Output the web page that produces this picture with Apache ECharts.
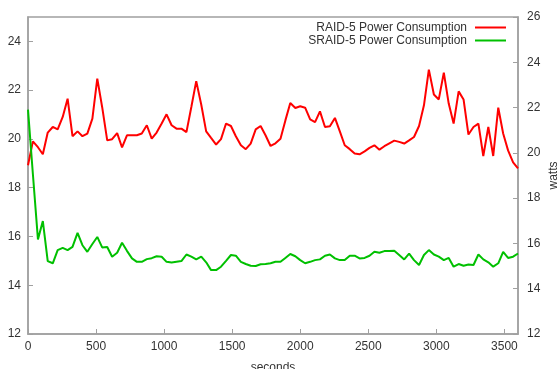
<!DOCTYPE html>
<html>
<head>
<meta charset="utf-8">
<title>RAID-5 vs SRAID-5 power</title>
<script src="https://cdn.jsdelivr.net/npm/echarts@6/dist/echarts.min.js"></script>
<style>
	html, body { margin: 0; padding: 0; background: #fff; }
	#chart { width: 560px; height: 369px; }
</style>
</head>
<body>
<div id="chart"></div>
<script>
// sample times (seconds)
var seconds = [0, 36, 73, 109, 145, 182, 218, 255, 291, 327, 364, 400, 436, 473, 509, 545, 582, 618, 655, 691,
	727, 764, 800, 836, 873, 909, 945, 982, 1018, 1055, 1091, 1127, 1164, 1200, 1236, 1273, 1309, 1345, 1382, 1418,
	1455, 1491, 1527, 1564, 1600, 1636, 1673, 1709, 1745, 1782, 1818, 1855, 1891, 1927, 1964, 2000, 2036, 2073, 2109, 2145,
	2182, 2218, 2255, 2291, 2327, 2364, 2400, 2436, 2473, 2509, 2545, 2582, 2618, 2655, 2691, 2727, 2764, 2800, 2836, 2873,
	2909, 2945, 2982, 3018, 3055, 3091, 3127, 3164, 3200, 3236, 3273, 3309, 3345, 3382, 3418, 3455, 3491, 3527, 3564, 3600];

// RAID-5 watts
var raid5 = [18.92, 19.90, 19.66, 19.37, 20.26, 20.49, 20.39, 20.90, 21.65, 20.11,
	20.31, 20.11, 20.22, 20.83, 22.47, 21.30, 19.94, 19.99, 20.24, 19.65,
	20.15, 20.15, 20.15, 20.22, 20.56, 20.01, 20.26, 20.63, 21.01, 20.56,
	20.42, 20.42, 20.28, 21.31, 22.37, 21.40, 20.31, 20.04, 19.77, 19.99,
	20.63, 20.53, 20.11, 19.74, 19.58, 19.81, 20.39, 20.53, 20.15, 19.71,
	19.82, 20.01, 20.76, 21.47, 21.27, 21.34, 21.28, 20.80, 20.69, 21.13,
	20.49, 20.52, 20.86, 20.31, 19.74, 19.58, 19.40, 19.37, 19.49, 19.63,
	19.74, 19.56, 19.70, 19.82, 19.93, 19.88, 19.81, 19.94, 20.08, 20.53,
	21.38, 22.84, 21.82, 21.62, 22.72, 21.45, 20.63, 21.95, 21.62, 20.18,
	20.49, 20.63, 19.30, 20.49, 19.30, 21.28, 20.22, 19.53, 19.04, 18.79];

// SRAID-5 watts
var sraid5 = [21.20, 18.55, 15.88, 16.63, 14.99, 14.90, 15.44, 15.53, 15.44, 15.57,
	16.15, 15.64, 15.37, 15.69, 15.98, 15.55, 15.57, 15.17, 15.33, 15.74,
	15.41, 15.10, 14.96, 14.96, 15.07, 15.11, 15.19, 15.17, 14.96, 14.93,
	14.96, 14.99, 15.26, 15.17, 15.06, 15.17, 14.94, 14.62, 14.62, 14.76,
	15.00, 15.24, 15.21, 14.96, 14.87, 14.80, 14.79, 14.86, 14.87, 14.90,
	14.96, 14.96, 15.12, 15.28, 15.19, 15.03, 14.90, 14.96, 15.03, 15.06,
	15.21, 15.26, 15.10, 15.03, 15.03, 15.21, 15.21, 15.10, 15.12, 15.21,
	15.37, 15.33, 15.40, 15.40, 15.41, 15.24, 15.06, 15.30, 15.03, 14.83,
	15.24, 15.44, 15.26, 15.17, 15.03, 15.12, 14.76, 14.87, 14.80, 14.85,
	14.83, 15.26, 15.06, 14.94, 14.76, 14.90, 15.37, 15.12, 15.17, 15.30];

var seriesNames = ['RAID-5 Power Consumption', 'SRAID-5 Power Consumption'];

function pairs(xs, ys) {
	var out = [];
	for (var i = 0; i < ys.length; i++) {
		out.push([xs[i], ys[i]]);
	}
	return out;
}

var font = "'Liberation Sans', Arial, sans-serif";
var frameColor = '#a0a0a0';
var textColor = '#333';

var chart = echarts.init(document.getElementById('chart'), null, { renderer: 'canvas' });
chart.setOption({
	animation: false,
	backgroundColor: '#fff',
	textStyle: { fontFamily: font },
	grid: {
		left: 28,
		right: 42,
		top: 17,
		bottom: 35,
		containLabel: false,
		outerBoundsMode: 'none',
		show: true,
		borderColor: frameColor,
		borderWidth: 1.5
	},
	legend: {
		orient: 'vertical',
		right: 49,
		top: 16,
		align: 'right',
		itemWidth: 31,
		itemHeight: 2,
		itemGap: 0,
		icon: 'rect',
		textStyle: { fontSize: 12, color: textColor, fontFamily: font, lineHeight: 13, padding: [0, 3, 0, 0] },
		data: seriesNames
	},
	xAxis: {
		type: 'value',
		min: 0,
		max: 3600,
		interval: 500,
		name: 'seconds',
		nameLocation: 'middle',
		nameGap: 28,
		nameMoveOverlap: false,
		nameTextStyle: { fontSize: 12, color: textColor },
		axisLine: { show: true, lineStyle: { color: frameColor, width: 1.5 } },
		axisTick: { show: true, inside: true, length: 5, lineStyle: { color: frameColor } },
		axisLabel: {
			margin: 7,
			fontSize: 12,
			color: textColor,
			showMaxLabel: false,
			formatter: function(v) { return String(v); }
		},
		splitLine: { show: false }
	},
	yAxis: [{
		type: 'value',
		position: 'left',
		min: 12,
		max: 25,
		interval: 2,
		axisLine: { show: true, lineStyle: { color: frameColor, width: 1.5 } },
		axisTick: { show: true, inside: true, length: 5, lineStyle: { color: frameColor } },
		axisLabel: { margin: 7, fontSize: 12, color: textColor, showMaxLabel: false },
		splitLine: { show: false }
	}, {
		type: 'value',
		position: 'right',
		min: 12,
		max: 26,
		interval: 2,
		name: 'watts',
		nameLocation: 'middle',
		nameRotate: 90,
		nameGap: 30,
		nameMoveOverlap: false,
		nameTextStyle: { fontSize: 12, color: textColor },
		axisLine: { show: true, lineStyle: { color: frameColor, width: 1.5 } },
		axisTick: { show: true, inside: true, length: 5, lineStyle: { color: frameColor } },
		axisLabel: { margin: 9, fontSize: 12, color: textColor },
		splitLine: { show: false }
	}],
	series: [{
		name: seriesNames[0],
		type: 'line',
		yAxisIndex: 0,
		symbol: 'none',
		color: '#ff0000',
		lineStyle: { color: '#ff0000', width: 2 },
		data: pairs(seconds, raid5)
	}, {
		name: seriesNames[1],
		type: 'line',
		yAxisIndex: 0,
		symbol: 'none',
		color: '#00c000',
		lineStyle: { color: '#00c000', width: 2 },
		data: pairs(seconds, sraid5)
	}]
});
</script>
</body>
</html>
